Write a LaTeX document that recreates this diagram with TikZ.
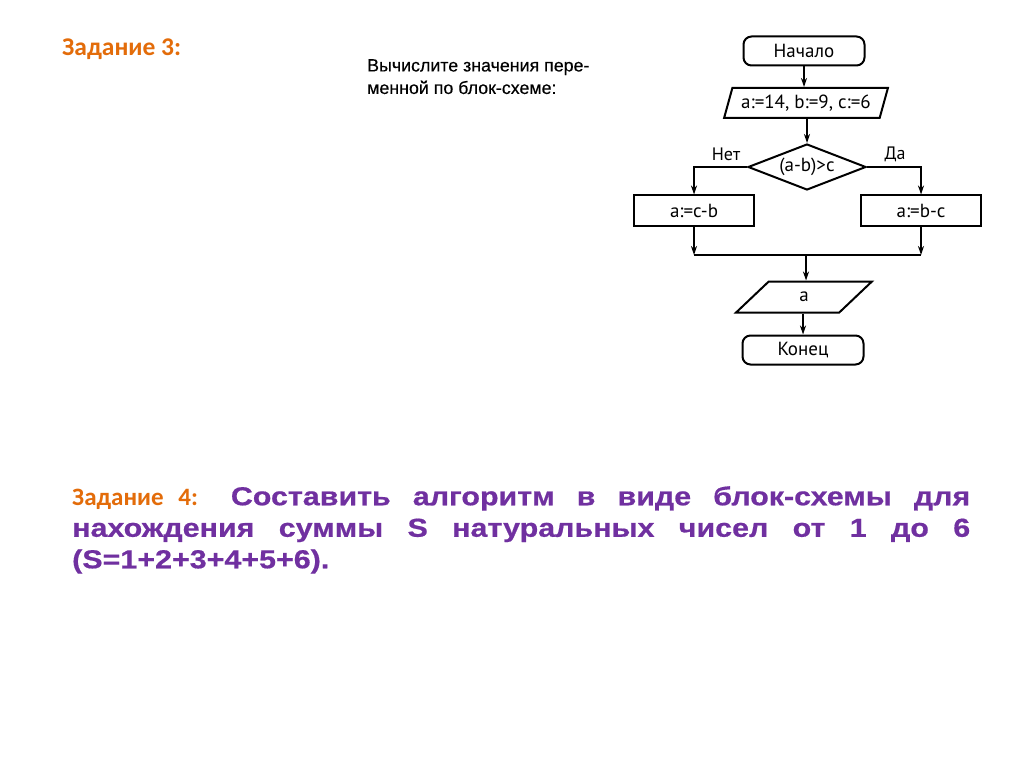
\documentclass[tikz,border=0pt]{standalone}
\usepackage{fontspec}
\setmainfont{Liberation Sans}
\newfontfamily\carl{Carlito}
\newfontfamily\chartfont{PT Sans}
\newfontfamily\introfont[FakeBold=0.4]{Liberation Sans}
\newfontfamily\widebold[FakeStretch=1.17,FakeBold=0.6]{Liberation Sans Bold}
\usetikzlibrary{shapes.geometric,arrows.meta}
\definecolor{taskorange}{HTML}{E36C0A}
\definecolor{taskpurple}{HTML}{7030A0}
\tikzset{
  chart/.style={font=\chartfont\fontsize{19}{21}\selectfont, line width=2pt, draw=black},
  term/.style={chart, rectangle, rounded corners=8pt, minimum width=121pt, minimum height=29pt, inner sep=0pt},
  proc/.style={chart, rectangle, minimum width=120pt, minimum height=31pt, inner sep=0pt},
  io/.style={chart, trapezium, trapezium left angle=66, trapezium right angle=114, trapezium stretches=true, inner sep=0pt},
  cond/.style={chart, diamond, shape aspect=2.56, inner sep=-2.5pt, minimum width=118pt, minimum height=46pt},
  flow/.style={line width=1.4pt, -{Stealth[length=9pt,width=6pt]}},
  line/.style={line width=1.4pt},
  lbl/.style={font=\chartfont\fontsize{18}{20}\selectfont, inner sep=0pt}
}
\begin{document}
\begin{tikzpicture}[x=1pt,y=-1pt]
\useasboundingbox (0,0) rectangle (1024,767);
\fill[white] (0,0) rectangle (1024,767);
% headings
\node[anchor=west, text=taskorange, font=\carl\bfseries\fontsize{25.5}{28}\selectfont, inner sep=0pt] (t3) at (62,49) {Задание 3:};
\node[anchor=north west, align=left, font=\introfont\fontsize{17.8}{22.5}\selectfont, inner sep=0pt] (intro) at (367,59) {Вычислите значения пере-\\менной по блок-схеме:};
% flowchart
\node[term] (start) at (804,51) {Начало};
\node[io, minimum width=164pt, minimum height=30pt] (in) at (806,103) {a:=14, b:=9, c:=6};
\node[cond] (dec) at (807,167) {(a-b)>c};
\node[proc] (no) at (694,211) {a:=c-b};
\node[proc] (yes) at (921,211) {a:=b-c};
\node[io, minimum width=136pt, minimum height=31pt] (out) at (804,297) {a};
\node[term] (end) at (803,350) {Конец};
\coordinate (jl) at (694,255);
\coordinate (jr) at (921,255);
\coordinate (jm) at (806,255);
\draw[flow] (start.south) -- (start.south |- in.north);
\draw[flow] (in.south -| dec.north) -- (dec.north);
\draw[flow] (dec.west) -| (no.north);
\draw[flow] (dec.east) -| (yes.north);
\draw[flow] (no.south) -- (jl);
\draw[flow] (yes.south) -- (jr);
\draw[line] (jl) -- (jr);
\draw[flow] (jm) -- (jm |- out.north);
\draw[flow] (out.south -| end.north) -- (end.north);
\node[lbl] (lno) at (726,154) {Нет};
\node[lbl] (lyes) at (895,154) {Да};
% task 4
\node[anchor=north west, inner sep=0pt, font=\fontsize{26}{31.5}\selectfont] (t4) at (72,486) {%
\parbox{898pt}{\hyphenpenalty=10000\exhyphenpenalty=10000\tolerance=10000\hbadness=10000\rightskip=0pt\parfillskip=0pt plus 1fil
{\color{taskorange}\carl\bfseries\fontsize{25}{31.5}\selectfont Задание 4:} {\color{taskpurple}\widebold Составить алгоритм в виде блок-схемы для\linebreak нахождения суммы S натуральных чисел от 1 до 6\linebreak (S=1+2+3+4+5+6).}}};
\end{tikzpicture}
\end{document}
